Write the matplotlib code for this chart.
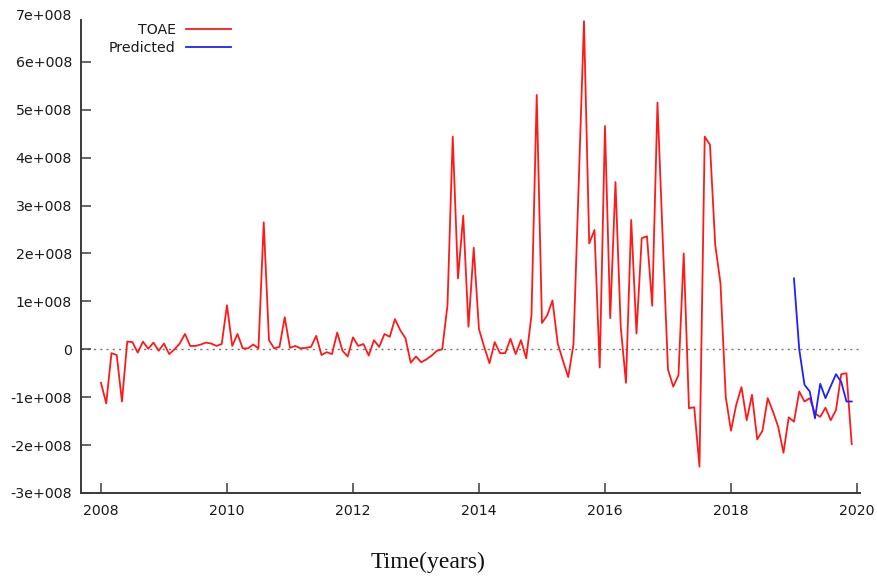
import numpy as np
import matplotlib
matplotlib.use("Agg")
import matplotlib.pyplot as plt
from matplotlib.ticker import FuncFormatter

# ---- data (values in units of 1e8) ----
start_year = 2008
toae_e8 = [
    -0.70, -1.13, -0.08, -0.12, -1.09, 0.16, 0.15, -0.07, 0.16, 0.01, 0.14, -0.03,   # 2008
    0.12, -0.10, 0.00, 0.12, 0.32, 0.07, 0.07, 0.10, 0.14, 0.12, 0.07, 0.11,         # 2009
    0.92, 0.07, 0.32, 0.02, 0.02, 0.10, 0.02, 2.65, 0.19, 0.02, 0.05, 0.67,          # 2010
    0.03, 0.07, 0.02, 0.03, 0.05, 0.28, -0.12, -0.06, -0.10, 0.35, -0.03, -0.15,     # 2011
    0.25, 0.07, 0.11, -0.13, 0.19, 0.05, 0.32, 0.26, 0.63, 0.40, 0.23, -0.28,        # 2012
    -0.15, -0.27, -0.21, -0.13, -0.03, 0.00, 0.92, 4.44, 1.48, 2.79, 0.47, 2.12,     # 2013
    0.42, 0.05, -0.29, 0.15, -0.08, -0.08, 0.22, -0.10, 0.19, -0.19, 0.71, 5.31,     # 2014
    0.55, 0.71, 1.02, 0.12, -0.24, -0.58, 0.10, 3.50, 6.85, 2.21, 2.49, -0.38,       # 2015
    4.66, 0.65, 3.49, 0.47, -0.70, 2.70, 0.33, 2.32, 2.36, 0.91, 5.15, 2.30,         # 2016
    -0.42, -0.78, -0.54, 2.00, -1.23, -1.21, -2.45, 4.44, 4.27, 2.18, 1.38, -0.99,   # 2017
    -1.70, -1.16, -0.79, -1.48, -0.95, -1.88, -1.70, -1.02, -1.30, -1.62, -2.16, -1.42,  # 2018
    -1.51, -0.88, -1.09, -1.02, -1.34, -1.41, -1.22, -1.48, -1.27, -0.52, -0.50, -1.98,  # 2019
]
pred_start_year = 2019
predicted_e8 = [1.48, 0.00, -0.74, -0.88, -1.44, -0.72, -1.02, -0.77, -0.52, -0.68, -1.09, -1.09]

x_ticks = [2008, 2010, 2012, 2014, 2016, 2018, 2020]
y_ticks_e8 = [-3, -2, -1, 0, 1, 2, 3, 4, 5, 6, 7]
x_label = "Time(years)"
series_names = ["TOAE", "Predicted"]

toae = np.array(toae_e8) * 1e8
predicted = np.array(predicted_e8) * 1e8
t_toae = start_year + np.arange(len(toae)) / 12.0
t_pred = pred_start_year + np.arange(len(predicted)) / 12.0

# ---- figure ----
W, H = 878, 578
fig = plt.figure(figsize=(W / 100, H / 100), dpi=100)
L, R, T, B = 81, 860, 14, 493
ax = fig.add_axes([L / W, 1 - B / H, (R - L) / W, (B - T) / H])

axis_col = "#3a3a3a"
ax.axhline(0, color="#777777", lw=1.0, ls=(0, (1.5, 3)), zorder=1)
ax.plot(t_toae, toae, color="#ff1a1a", lw=1.3, label=series_names[0], zorder=3)
ax.plot(t_pred, predicted, color="#2020ff", lw=1.3, label=series_names[1], zorder=4)

ax.set_xlim(2007.683, 2020.048)
ax.set_ylim(-3e8, 7e8)
ax.set_xticks(x_ticks)
ax.set_yticks(np.array(y_ticks_e8) * 1e8)


def fmt(v, pos):
    n = int(round(v / 1e8))
    return "0" if n == 0 else f"{n}e+008"


ax.yaxis.set_major_formatter(FuncFormatter(fmt))

for s in ["top", "right"]:
    ax.spines[s].set_visible(False)
for s in ["left", "bottom"]:
    ax.spines[s].set_color(axis_col)
    ax.spines[s].set_linewidth(1.4)
ax.spines["left"].set_bounds(-3e8, 6.87e8)

ax.tick_params(axis="both", direction="in", length=7, width=1.1, color=axis_col,
               labelsize=10.2, labelcolor="#1a1a1a")
ax.tick_params(axis="y", pad=6.5)
ax.tick_params(axis="x", pad=8)
# top tick (7e+008) has a label but no tick mark in the reference
ax.yaxis.get_major_ticks()[-1].tick1line.set_visible(False)

ax.set_xlabel(x_label, fontsize=17, family="Liberation Serif", color="#111111", va="center")
ax.xaxis.set_label_coords((428 - L) / (R - L), (B - 562) / (B - T))

leg = ax.legend(loc="upper right", bbox_to_anchor=(231 / W, 1 - 23 / H),
                bbox_transform=fig.transFigure, frameon=False, markerfirst=False,
                fontsize=10.2, handlelength=3.2, handletextpad=0.7,
                labelspacing=0.3, borderpad=0, borderaxespad=0)
for t in leg.get_texts():
    t.set_color("#1a1a1a")

fig.savefig("out.png", dpi=100)
